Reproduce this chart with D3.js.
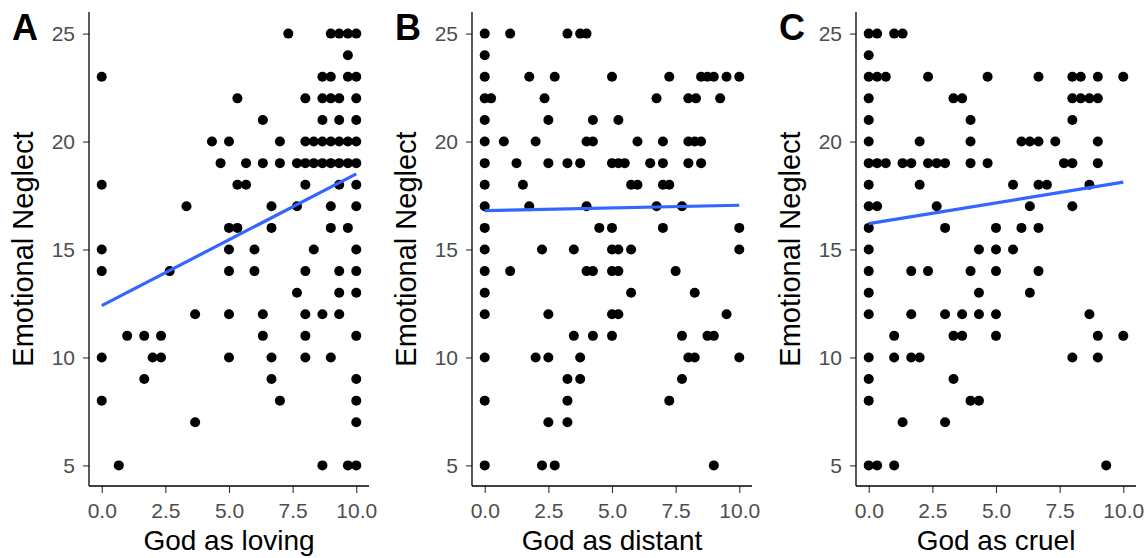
<!DOCTYPE html>
<html>
<head>
<meta charset="utf-8">
<script src="https://cdn.jsdelivr.net/npm/d3@7"></script>
<style>
  body { margin: 0; background: #fff; }
  svg { display: block; font-family: "Liberation Sans", Arial, sans-serif; }
</style>
</head>
<body>
<svg></svg>
<script>
// rows of [Emotional Neglect, [God-image scores at that level]]
const lovingRows = [
  [25, [7.33, 9, 9.33, 9.67, 10]],
  [24, [9.67]],
  [23, [0, 8.67, 9, 9.67, 10]],
  [22, [5.33, 8, 8.67, 9, 9.33, 10]],
  [21, [6.33, 8.67, 9.33, 10]],
  [20, [4.33, 5, 7, 8, 8.33, 8.67, 9, 9.33, 9.67, 10]],
  [19, [4.67, 5.67, 6.33, 7, 7.67, 8, 8.33, 8.67, 9, 9.33, 9.67, 10]],
  [18, [0, 5.33, 5.67, 8, 9.33, 10]],
  [17, [3.33, 6.67, 7.67, 9, 10]],
  [16, [5, 5.33, 6.67, 9, 9.67]],
  [15, [0, 5, 6, 8.33, 10]],
  [14, [0, 2.67, 5, 6, 8, 9.33, 10]],
  [13, [7.67, 9.33, 10]],
  [12, [3.67, 5, 6.33, 8, 8.67, 9.33]],
  [11, [1, 1.67, 2.33, 6.33, 8, 10]],
  [10, [0, 2, 2.33, 5, 6.67, 8, 9]],
  [9, [1.67, 6.67, 10]],
  [8, [0, 7, 10]],
  [7, [3.67, 10]],
  [5, [0.67, 8.67, 9.67, 10]]
];

const distantRows = [
  [25, [0, 1, 3.25, 3.75, 4]],
  [24, [0]],
  [23, [0, 1.75, 2.75, 5, 7.25, 8.5, 8.75, 9, 9.5, 10]],
  [22, [0, 0.25, 2.35, 6.75, 8, 8.3, 9.25]],
  [21, [0, 2.5, 4.25, 5.25]],
  [20, [0, 0.75, 2, 4, 4.25, 6, 7, 8, 8.25, 8.5]],
  [19, [0, 1.25, 2.5, 3.25, 3.75, 5, 5.25, 5.5, 6.5, 7, 8, 8.5]],
  [18, [0, 1.5, 5.75, 6, 7, 7.25]],
  [17, [0, 1.75, 4, 6.75, 7.75]],
  [16, [0, 4.5, 5, 7, 10]],
  [15, [0, 2.25, 3.5, 5, 5.25, 5.75, 10]],
  [14, [0, 1, 4, 4.25, 5, 5.25, 7.5]],
  [13, [0, 5.75, 8.25]],
  [12, [0, 2.5, 5, 5.25, 9.5]],
  [11, [3.5, 4.25, 5, 7.75, 8.75, 9]],
  [10, [0, 2, 2.5, 3.75, 8, 8.25, 10]],
  [9, [3.25, 3.75, 7.75]],
  [8, [0, 3.25, 7.25]],
  [7, [2.5, 3.25]],
  [5, [0, 2.25, 2.75, 9]]
];

const cruelRows = [
  [25, [0, 0.33, 1, 1.33]],
  [24, [0]],
  [23, [0, 0.33, 0.67, 2.33, 4.67, 6.67, 8, 8.33, 9, 10]],
  [22, [0, 3.33, 3.67, 8, 8.33, 8.67, 9]],
  [21, [0, 4, 8]],
  [20, [0, 2, 4, 6, 6.33, 6.67, 7.33, 9]],
  [19, [0, 0.33, 0.67, 1.33, 1.67, 2.33, 2.67, 3, 4, 4.67, 7.67, 8, 9]],
  [18, [0, 2, 5.67, 6.67, 7, 8.67]],
  [17, [0, 0.33, 2.67, 6.33, 8]],
  [16, [0, 3, 5, 6, 6.67]],
  [15, [0, 4.33, 5, 5.67]],
  [14, [0, 1.67, 2.33, 4, 5, 6.67]],
  [13, [0, 4.33, 6.33]],
  [12, [0, 1.67, 3, 3.67, 4.33, 5, 8.67]],
  [11, [1, 3.33, 3.67, 5, 9, 10]],
  [10, [0, 1, 1.67, 2, 8, 9]],
  [9, [0, 3.33]],
  [8, [0, 4, 4.33]],
  [7, [1.33, 3]],
  [5, [0, 0.33, 1, 9.33]]
];

// fitted lm line, value at x = 0 and x = 10
const lovingFit = [12.4, 18.5];
const distantFit = [16.8, 17.05];
const cruelFit = [16.2, 18.12];

const panelLetters = ['A', 'B', 'C'];
const xTitles = ['God as loving', 'God as distant', 'God as cruel'];
const yTitle = 'Emotional Neglect';
const xTicks = [0, 2.5, 5, 7.5, 10];
const yTicks = [5, 10, 15, 20, 25];

const panels = [
  { rows: lovingRows, fit: lovingFit },
  { rows: distantRows, fit: distantFit },
  { rows: cruelRows, fit: cruelFit }
];

const svg = d3.select('svg')
              .attr('width', 1148)
              .attr('height', 558);

const axisLeft = [89, 472, 856];
const plotW = 280;
const plotTop = 12, plotBottom = 486;

const yScale = d3.scaleLinear()
                 .domain([4, 26])
                 .range([plotBottom + 1, plotTop]);

panels.forEach((p, i) => {
  const x0 = axisLeft[i];
  const xScale = d3.scaleLinear()
                   .domain([-0.5, 10.5])
                   .range([x0, x0 + plotW]);

  const g = svg.append('g');

  const pts = p.rows.flatMap(([y, xs]) => xs.map(x => ({ x, y })));

  g.selectAll('circle')
   .data(pts)
   .enter()
   .append('circle')
   .attr('cx', d => xScale(d.x))
   .attr('cy', d => yScale(d.y))
   .attr('r', 5)
   .attr('fill', '#000');

  // smooth line
  g.append('line')
   .attr('x1', xScale(0))
   .attr('y1', yScale(p.fit[0]))
   .attr('x2', xScale(10))
   .attr('y2', yScale(p.fit[1]))
   .attr('stroke', '#3366FF')
   .attr('stroke-width', 3.2);

  // axes
  const ya = g.append('g')
              .attr('transform', `translate(${x0},0)`)
              .call(d3.axisLeft(yScale).tickValues(yTicks).tickSize(6).tickPadding(8));
  const xa = g.append('g')
              .attr('transform', `translate(0,${plotBottom})`)
              .call(d3.axisBottom(xScale).tickValues(xTicks).tickSize(7).tickPadding(10)
                      .tickFormat(d3.format('.1f')));

  [ya, xa].forEach(a => {
    a.select('.domain').remove();
    a.selectAll('.tick line').attr('stroke', '#333').attr('stroke-width', 1.1);
    a.selectAll('.tick text')
     .attr('fill', '#4d4d4d')
     .style('font-size', '21px')
     .style('font-family', '"Liberation Sans", Arial, sans-serif');
  });

  // axis lines
  g.append('line')
   .attr('x1', x0).attr('x2', x0)
   .attr('y1', plotTop).attr('y2', plotBottom)
   .attr('stroke', '#000').attr('stroke-width', 1.3);
  g.append('line')
   .attr('x1', x0).attr('x2', x0 + plotW)
   .attr('y1', plotBottom).attr('y2', plotBottom)
   .attr('stroke', '#000').attr('stroke-width', 1.3);

  svg.append('text')
     .attr('x', x0 + plotW / 2)
     .attr('y', 550)
     .attr('text-anchor', 'middle')
     .style('font-size', '28px')
     .text(xTitles[i]);

  svg.append('text')
     .attr('transform', `translate(${x0 - 56},${(plotTop + plotBottom) / 2}) rotate(-90)`)
     .attr('text-anchor', 'middle')
     .style('font-size', '29px')
     .text(yTitle);

  svg.append('text')
     .attr('x', x0 - 77)
     .attr('y', 40)
     .style('font-size', '36px')
     .style('font-weight', 'bold')
     .text(panelLetters[i]);
});
</script>
</body>
</html>
